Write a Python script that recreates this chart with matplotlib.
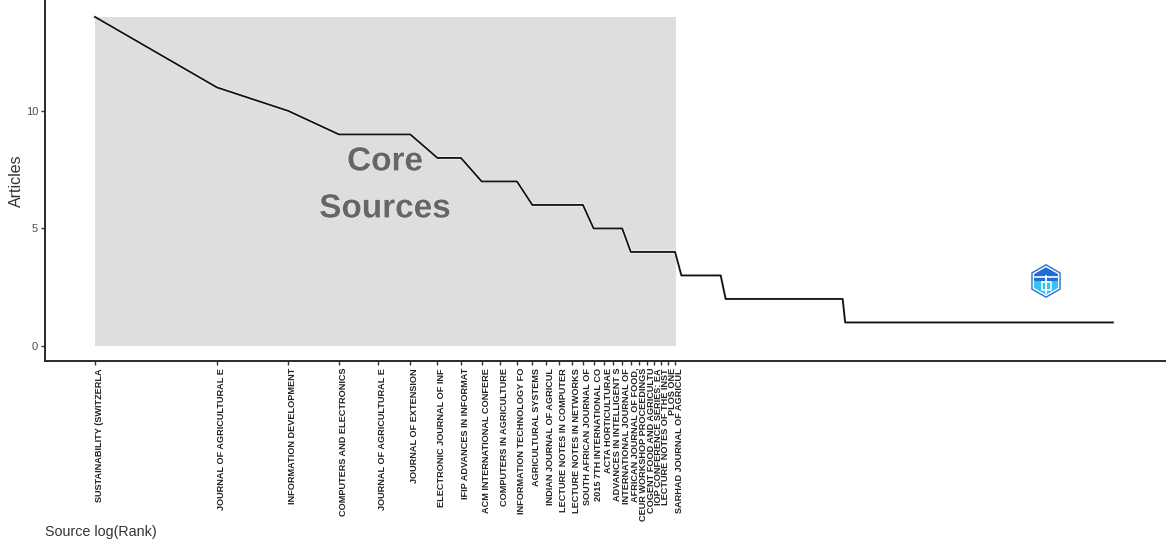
import numpy as np
import matplotlib
matplotlib.use('Agg')
import matplotlib.pyplot as plt
import matplotlib.patheffects as pe
from matplotlib.colors import LinearSegmentedColormap
from matplotlib.patches import RegularPolygon, Rectangle

plt.rcParams['font.family'] = ['Liberation Sans', 'DejaVu Sans']

# corners of the stepped curve
corner_ranks = [1, 2, 3, 4, 6, 7, 8, 9, 11, 12, 16, 17, 20, 21, 27, 28, 35, 36, 70, 71, 325]
corner_articles = [14, 11, 10, 9, 9, 8, 8, 7, 7, 6, 6, 5, 5, 4, 4, 3, 3, 2, 2, 1, 1]

core_sources = [
    'SUSTAINABILITY (SWITZERLA', 'JOURNAL OF AGRICULTURAL E', 'INFORMATION DEVELOPMENT',
    'COMPUTERS AND ELECTRONICS', 'JOURNAL OF AGRICULTURAL E', 'JOURNAL OF EXTENSION',
    'ELECTRONIC JOURNAL OF INF', 'IFIP ADVANCES IN INFORMAT', 'ACM INTERNATIONAL CONFERE',
    'COMPUTERS IN AGRICULTURE', 'INFORMATION TECHNOLOGY FO', 'AGRICULTURAL SYSTEMS',
    'INDIAN JOURNAL OF AGRICUL', 'LECTURE NOTES IN COMPUTER', 'LECTURE NOTES IN NETWORKS',
    'SOUTH AFRICAN JOURNAL OF', '2015 7TH INTERNATIONAL CO', 'ACTA HORTICULTURAE',
    'ADVANCES IN INTELLIGENT S', 'INTERNATIONAL JOURNAL OF', 'AFRICAN JOURNAL OF FOOD,',
    'CEUR WORKSHOP PROCEEDINGS', 'COGENT FOOD AND AGRICULTU', 'IOP CONFERENCE SERIES: EA',
    'LECTURE NOTES OF THE INST', 'PLOS ONE', 'SARHAD JOURNAL OF AGRICUL',
]
core_ranks = list(range(1, 28))
y_ticks = [0, 5, 10]

W, H = 1170, 541
fig = plt.figure(figsize=(W / 100, H / 100), dpi=100)
ax = fig.add_axes([45 / W, 1 - 361 / H, 1120 / W, 361 / H])

x_core = np.log(core_ranks)
ax.add_patch(Rectangle((0, 0), x_core[-1] + 0.005, 14, fc='#dedede', ec='none', zorder=1))
ax.plot(np.log(corner_ranks), corner_articles, color='#111111', lw=1.3, zorder=3,
        path_effects=[pe.withStroke(linewidth=2.2, foreground='#f4f4f4')])

halo = [pe.withStroke(linewidth=1, foreground='#ececec')]
ax.text(1.648, 7.83, 'Core', fontsize=24, fontweight='bold', color='#666666', ha='center', va='center', zorder=2, path_effects=halo)
ax.text(1.648, 5.83, 'Sources', fontsize=24, fontweight='bold', color='#666666', ha='center', va='center', zorder=2, path_effects=halo)

ax.set_xlim(-0.284, 6.08)
ax.set_ylim(-0.64, 14.72)
ax.set_yticks(y_ticks)
ax.set_xticks(x_core)
ax.set_xticklabels(core_sources, rotation=90, fontsize=6.6, fontweight='bold', color='#222222', ha='left', va='top')
ax.tick_params(axis='x', length=3, width=1, color='#333333', pad=2)
ax.tick_params(axis='y', length=3, width=1, color='#333333', labelsize=8, labelcolor='#4d4d4d', pad=2)
for side in ['top', 'right']:
    ax.spines[side].set_visible(False)
for side in ['left', 'bottom']:
    ax.spines[side].set_linewidth(1.4)
    ax.spines[side].set_color('#2a2a2a')

fig.text(16 / W, 1 - 181 / H, 'Articles', rotation=90, fontsize=11.5, color='#333333', ha='center', va='center')
fig.text(45 / W, 1 - 532 / H, 'Source log(Rank)', fontsize=10.3, color='#333333', ha='left', va='center')

# little hexagon logo
logo = fig.add_axes([(1046 - 20) / W, 1 - (281 + 20) / H, 40 / W, 40 / H])
logo.axis('off')
logo.add_patch(RegularPolygon((0, 0), 6, radius=17, fc='#2a6fd0', ec='none', zorder=1))
logo.add_patch(RegularPolygon((0, 0), 6, radius=15.4, fc='white', ec='none', zorder=1.1))
inner = RegularPolygon((0, 0), 6, radius=13.8, fc='none', ec='none', zorder=1.2)
logo.add_patch(inner)
logo_cmap = LinearSegmentedColormap.from_list('logo', ['#1f6fd8', '#35c4f2'])
shade = logo.imshow([[0.0], [1.0]], extent=(-14, 14, -14, 14), cmap=logo_cmap, aspect='auto', zorder=1.3)
shade.set_clip_path(inner)
logo.set_xlim(-20, 20)
logo.set_ylim(-20, 20)
logo.plot([-11, 11], [4, 4], color='white', lw=1.2, zorder=2)
logo.plot([-4, 5, 5, -4, -4], [-1, -1, -9, -9, -1], color='white', lw=1.1, zorder=2)
logo.plot([0, 0], [5, -12], color='white', lw=1.3, zorder=2)

fig.savefig('out.png', dpi=100)
